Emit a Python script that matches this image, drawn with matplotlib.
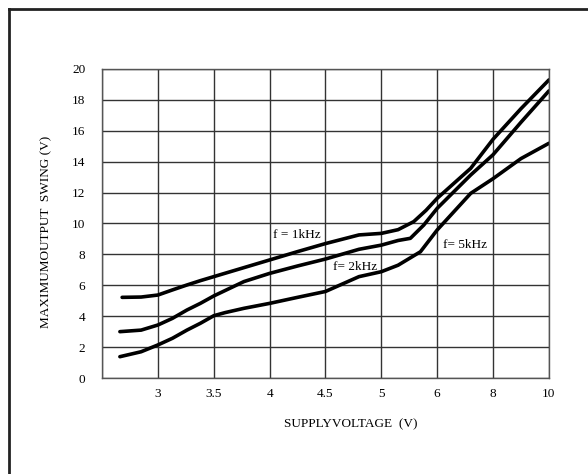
import numpy as np
import matplotlib
matplotlib.use("Agg")
import matplotlib.pyplot as plt
from matplotlib.lines import Line2D

plt.rcParams['font.family'] = ['Liberation Serif', 'DejaVu Serif']

# axis is evenly spaced by tick, not linear in volts
x_ticks = [2.5, 3, 3.5, 4, 4.5, 5, 6, 8, 10]
x_tick_labels = ['', '3', '3.5', '4', '4.5', '5', '6', '8', '10']
y_ticks = [0, 2, 4, 6, 8, 10, 12, 14, 16, 18, 20]

# f = 1kHz
v_1k = [2.68, 2.85, 3.0, 3.13, 3.26, 3.38, 3.5, 3.75, 4.0, 4.25, 4.5, 4.8, 5.0, 5.3, 5.58, 5.8, 6.0, 7.2, 8.0, 9.0, 10.0]
sw_1k = [5.22, 5.24, 5.37, 5.7, 6.02, 6.3, 6.56, 7.1, 7.64, 8.18, 8.7, 9.26, 9.36, 9.6, 10.12, 10.85, 11.63, 13.57, 15.45, 17.43, 19.29]
# f = 2kHz
v_2k = [2.66, 2.85, 3.0, 3.13, 3.26, 3.38, 3.5, 3.77, 4.0, 4.25, 4.5, 4.8, 5.0, 5.3, 5.52, 5.76, 6.0, 7.2, 8.0, 9.0, 10.0]
sw_2k = [3.0, 3.1, 3.43, 3.86, 4.4, 4.83, 5.31, 6.24, 6.77, 7.25, 7.7, 8.33, 8.6, 8.9, 9.04, 9.9, 10.98, 13.14, 14.45, 16.55, 18.58]
# f = 5kHz
v_5k = [2.66, 2.85, 3.0, 3.13, 3.26, 3.38, 3.5, 3.6, 3.77, 4.0, 4.25, 4.5, 4.8, 5.0, 5.3, 5.7, 6.0, 7.2, 8.0, 9.0, 10.0]
sw_5k = [1.38, 1.7, 2.14, 2.57, 3.1, 3.54, 4.03, 4.23, 4.51, 4.83, 5.22, 5.6, 6.56, 6.88, 7.3, 8.17, 9.58, 11.95, 12.9, 14.2, 15.19]


def fwd(v):
    return np.interp(v, x_ticks, np.arange(len(x_ticks)))


def inv(p):
    return np.interp(p, np.arange(len(x_ticks)), x_ticks)


fig = plt.figure(figsize=(5.88, 4.74), dpi=100)
ax = fig.add_axes([0.1735, 0.2025, 0.760, 0.652])
ax.set_xscale('function', functions=(fwd, inv))
ax.set_xlim(2.5, 10)
ax.set_ylim(0, 20)

ax.set_xticks(x_ticks)
ax.set_xticklabels(x_tick_labels)
ax.set_yticks(y_ticks)
ax.tick_params(length=0, labelsize=9.5)
ax.tick_params(axis='y', pad=12)
ax.tick_params(axis='x', pad=7)
ax.grid(True, color='#333333', linewidth=1.0)
ax.set_axisbelow(True)
for s in ax.spines.values():
    s.set_color('#555555')
    s.set_linewidth(1.0)

for v, sw in [(v_1k, sw_1k), (v_2k, sw_2k), (v_5k, sw_5k)]:
    ax.plot(v, sw, color='black', linewidth=2.6, solid_capstyle='round', solid_joinstyle='round')

ax.text(4.03, 9.26, 'f = 1kHz', fontsize=9.5, va='center', ha='left')
ax.text(4.57, 7.16, 'f= 2kHz', fontsize=9.5, va='center', ha='left')
ax.text(6.2, 8.6, 'f= 5kHz', fontsize=9.5, va='center', ha='left')

ax.set_xlabel('SUPPLYVOLTAGE  (V)', fontsize=9.5)
ax.xaxis.set_label_coords(0.557, -0.129)
ax.set_ylabel('MAXIMUMOUTPUT  SWING (V)', fontsize=9.5)
ax.yaxis.set_label_coords(-0.112, 0.472)

# outer frame (only top and left visible)
fig.add_artist(Line2D([9/588, 9/588], [0, 1 - 9/474], color='#222222', linewidth=2.0))
fig.add_artist(Line2D([9/588, 1], [1 - 9/474, 1 - 9/474], color='#222222', linewidth=2.0))

fig.savefig('out.png', dpi=100)
